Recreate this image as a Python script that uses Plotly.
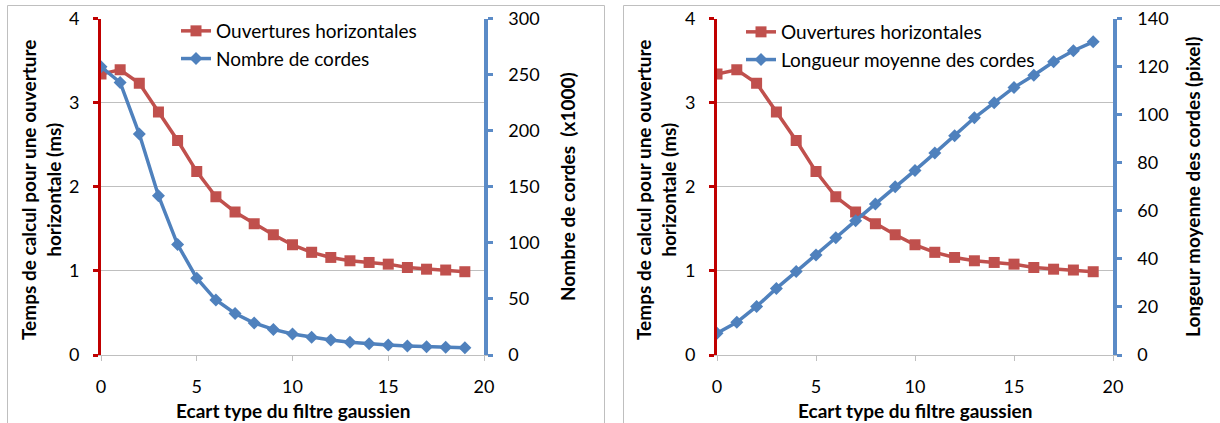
import plotly.graph_objects as go

# ---- data ----
ecart = list(range(20))
ouvertures = [3.34, 3.39, 3.23, 2.89, 2.55, 2.18, 1.88, 1.70, 1.56, 1.43,
              1.31, 1.22, 1.16, 1.12, 1.10, 1.08, 1.04, 1.02, 1.01, 0.99]
nombre_cordes = [257, 243, 197, 142, 98.5, 68.5, 49, 37, 28.5, 22.8,
                 18.8, 15.8, 13.4, 11.4, 10.0, 9.0, 8.1, 7.4, 7.0, 6.5]
longueur = [9.1, 13.6, 20.2, 27.7, 34.7, 41.6, 48.8, 55.9, 62.8, 70.0,
            76.8, 84.0, 91.2, 98.7, 105.0, 111.3, 116.4, 122.0, 126.6, 130.3]

name_red = "Ouvertures horizontales"
name_nb = "Nombre de cordes"
name_long = "Longueur moyenne des cordes"
xtitle = "Ecart type du filtre gaussien"
ytitle_left = "Temps de calcul pour une ouverture<br>horizontale (ms)"
ytitle_nb = "Nombre de cordes  (x1000)"
ytitle_long = "Longeur moyenne des cordes (pixel)"

W, H = 1220, 423
RED = "#C0504D"
BLUE = "#4F81BD"
AXRED = "#C00000"
AXBLUE = "#5B8BC7"
GRID = "#BFBFBF"
FONT = "Lato"

def px(x):
    return x / W

def py(y):
    return 1 - y / H

fig = go.Figure()

red_style = dict(mode="lines+markers", line=dict(color=RED, width=3.5),
                 marker=dict(symbol="square", size=11, color=RED))
blue_style = dict(mode="lines+markers", line=dict(color=BLUE, width=3.5),
                  marker=dict(symbol="diamond", size=10, color=BLUE))

fig.add_trace(go.Scatter(x=ecart, y=ouvertures, name=name_red, xaxis="x", yaxis="y",
                         legend="legend", **red_style))
fig.add_trace(go.Scatter(x=ecart, y=nombre_cordes, name=name_nb, xaxis="x", yaxis="y2",
                         legend="legend", **blue_style))
fig.add_trace(go.Scatter(x=ecart, y=ouvertures, name=name_red, xaxis="x2", yaxis="y3",
                         legend="legend2", **red_style))
fig.add_trace(go.Scatter(x=ecart, y=longueur, name=name_long, xaxis="x2", yaxis="y4",
                         legend="legend2", **blue_style))

ydom = [py(355), py(18.5)]
tickfont = dict(family=FONT, size=18, color="#000000")

xcommon = dict(range=[0, 20], dtick=5, showgrid=False, showline=True, linecolor=GRID,
               linewidth=1, ticks="outside", ticklen=5, tickcolor=GRID,
               tickfont=tickfont, ticklabelstandoff=10, zeroline=False, automargin=False)
yleft = dict(range=[0, 4], dtick=1, showgrid=True, gridcolor=GRID, gridwidth=1,
             showline=True, linecolor=AXRED, linewidth=3, ticks="outside", ticklen=5,
             tickwidth=3, tickcolor=AXRED, tickfont=tickfont, ticklabelstandoff=10,
             zeroline=False, domain=ydom, automargin=False)
yright = dict(showgrid=False, showline=True, linecolor=AXBLUE, linewidth=3.5,
              ticks="outside", ticklen=5, tickwidth=3, tickcolor=AXBLUE,
              tickfont=tickfont, ticklabelstandoff=12, zeroline=False, side="right",
              automargin=False)

fig.update_layout(
    width=W, height=H,
    margin=dict(l=0, r=0, t=0, b=0, autoexpand=False),
    paper_bgcolor="white", plot_bgcolor="white",
    font=dict(family=FONT, color="#000000"),
    xaxis=dict(domain=[px(101), px(484)], anchor="y", **xcommon),
    xaxis2=dict(domain=[px(717), px(1113)], anchor="y3", **xcommon),
    yaxis=dict(anchor="x", **yleft),
    yaxis2=dict(anchor="x", overlaying="y", range=[0, 300], dtick=50, **yright),
    yaxis3=dict(anchor="x2", **yleft),
    yaxis4=dict(anchor="x2", overlaying="y3", range=[0, 140], dtick=20, **yright),
    legend=dict(x=px(176), y=py(12), xanchor="left", yanchor="top",
                bgcolor="rgba(0,0,0,0)", font=dict(family=FONT, size=19),
                tracegroupgap=0),
    legend2=dict(x=px(741), y=py(13), xanchor="left", yanchor="top",
                 bgcolor="rgba(0,0,0,0)", font=dict(family=FONT, size=19),
                 tracegroupgap=0),
    showlegend=True,
)

titlefont = dict(family=FONT, size=19, color="#000000", weight="bold")
ann = [
    dict(text=xtitle, x=px(293), y=py(410)),
    dict(text=xtitle, x=px(915), y=py(410)),
    dict(text=ytitle_left, x=px(41), y=py(190), textangle=-90),
    dict(text=ytitle_left, x=px(656), y=py(190), textangle=-90),
    dict(text=ytitle_nb, x=px(567), y=py(187), textangle=-90),
    dict(text=ytitle_long, x=px(1192), y=py(187), textangle=-90),
]
for a in ann:
    fig.add_annotation(xref="paper", yref="paper", showarrow=False,
                       xanchor="center", yanchor="middle", font=titlefont, **a)

# chart borders
border = dict(color="#BFBFBF", width=1)
fig.add_shape(type="rect", xref="paper", yref="paper", x0=px(7.5), x1=px(604.5),
              y0=py(430), y1=py(5.5), line=border, layer="below")
fig.add_shape(type="rect", xref="paper", yref="paper", x0=px(623.5), x1=px(1230),
              y0=py(430), y1=py(5.5), line=border, layer="below")

fig.write_html("out.html", config={"displayModeBar": False},
               post_script="document.body.style.margin='0';")
